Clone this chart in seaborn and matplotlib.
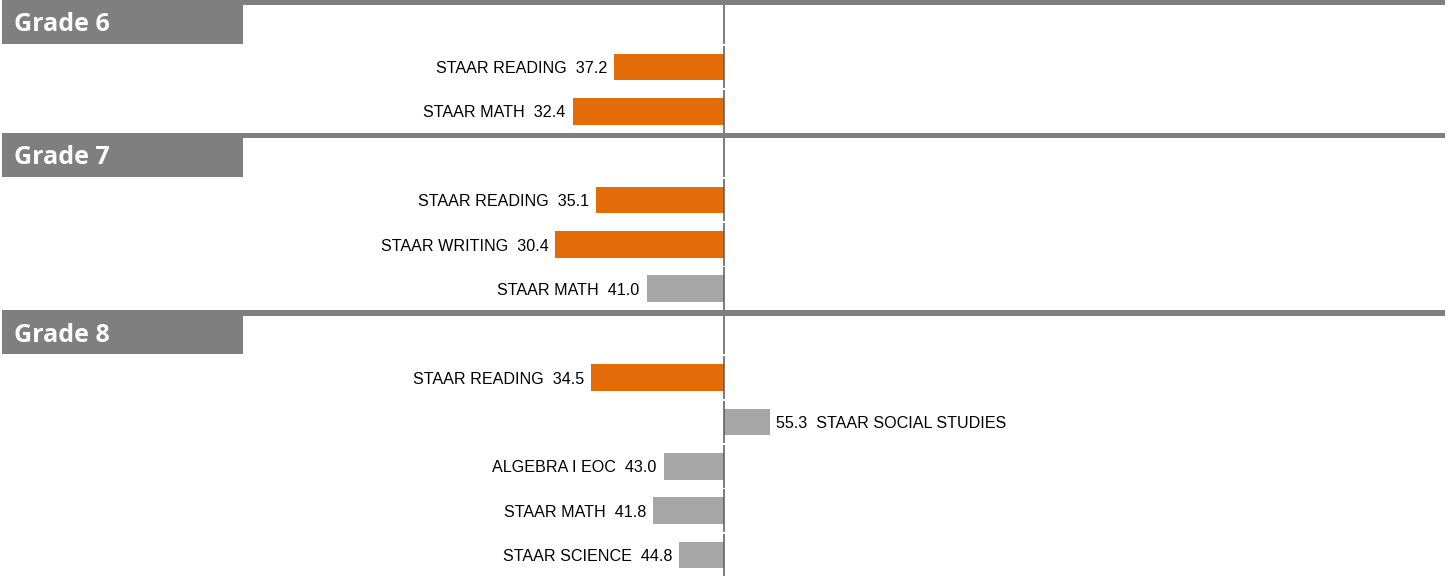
import numpy as np
import pandas as pd
import matplotlib
matplotlib.use("Agg")
import matplotlib.pyplot as plt
import matplotlib.transforms as mtransforms
from matplotlib.patches import Rectangle
import seaborn as sns

# ── data ──────────────────────────────────────────────────────────────────
grades = ["Grade 6", "Grade 7", "Grade 8"]
grade_subjects = [
    ["STAAR READING", "STAAR MATH"],
    ["STAAR READING", "STAAR WRITING", "STAAR MATH"],
    ["STAAR READING", "STAAR SOCIAL STUDIES", "ALGEBRA I EOC", "STAAR MATH", "STAAR SCIENCE"],
]
grade_values = [
    [37.2, 32.4],
    [35.1, 30.4, 41.0],
    [34.5, 55.3, 43.0, 41.8, 44.8],
]
grade_flags = [
    ["focus", "focus"],
    ["focus", "focus", "other"],
    ["focus", "other", "other", "other", "other"],
]
midpoint = 50

ORANGE = "#E36C09"
BAR_GREY = "#A6A6A6"
HEAD_GREY = "#7F7F7F"
LINE_GREY = "#595959"

# build one row per header and per subject, top to bottom
header_rows = []
recs = []
row = 0
for g, subs, vals, flags in zip(grades, grade_subjects, grade_values, grade_flags):
    header_rows.append((row, g))
    row += 1
    for s, v, f in zip(subs, vals, flags):
        recs.append({"row": row, "subject": s, "value": v, "dev": v - midpoint, "flag": f})
        row += 1
n_rows = row
df = pd.DataFrame(recs)

# ── figure ────────────────────────────────────────────────────────────────
sns.set_style("white")
fig = plt.figure(figsize=(14.52, 5.78), dpi=100)
ax = fig.add_axes([0, 0, 1, 1])

sns.barplot(data=df, x="dev", y="row", hue="flag", orient="h",
            palette={"focus": ORANGE, "other": BAR_GREY},
            native_scale=True, dodge=False, width=0.6, errorbar=None,
            legend=False, saturation=1, linewidth=0, ax=ax)

# centre line, drawn as one segment per row
for r in range(n_rows):
    ax.plot([0, 0], [r - 0.48, r + 0.48], color=LINE_GREY, lw=1.1, zorder=3,
            solid_capstyle="butt")

# value labels next to bars
for _, rec in df.iterrows():
    if rec["dev"] < 0:
        ax.annotate(f"{rec['subject']}  {rec['value']:.1f}", (rec["dev"], rec["row"]),
                    xytext=(-5, -1.2), textcoords="offset points", ha="right", va="center",
                    fontsize=11.6, family="Liberation Sans", color="black")
    else:
        ax.annotate(f"{rec['value']:.1f}  {rec['subject']}", (rec["dev"], rec["row"]),
                    xytext=(4.5, -1.2), textcoords="offset points", ha="left", va="center",
                    fontsize=11.6, family="Liberation Sans", color="black")

# grade headers with separator rules
trans = mtransforms.blended_transform_factory(ax.transAxes, ax.transData)
for r, g in header_rows:
    ax.add_patch(Rectangle((0.0014, r - 0.51), 0.9938, 0.113, transform=trans,
                           facecolor=HEAD_GREY, edgecolor="none", zorder=4))
    ax.add_patch(Rectangle((0.0014, r - 0.51), 0.166, 0.99, transform=trans,
                           facecolor=HEAD_GREY, edgecolor="none", zorder=4))
    ax.text(0.0097, r + 0.05, g, transform=trans, ha="left", va="center",
            fontsize=18, fontweight="bold", family="Open Sans", color="white", zorder=5)

ax.set_xlim(-724 / 8.6, 728 / 8.6)
ax.set_ylim(12.52, -0.509)
ax.set_axis_off()

plt.savefig("out.png", dpi=100)
plt.close(fig)
